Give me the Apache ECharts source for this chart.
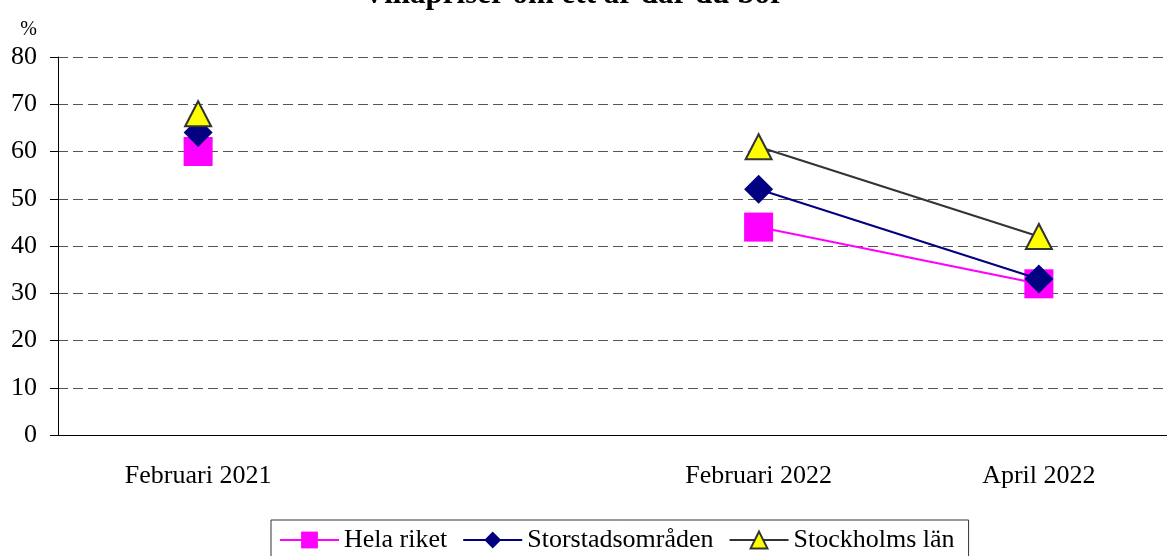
<!DOCTYPE html>
<html>
<head>
<meta charset="utf-8">
<script src="https://cdn.jsdelivr.net/npm/echarts@6/dist/echarts.min.js"></script>
<style>
  html, body { margin: 0; padding: 0; background: #fff; overflow: hidden; }
  /* plotytan går ut förbi bildens högerkant i originalet */
  #chart { width: 1180px; height: 556px; }
</style>
</head>
<body>
<div id="chart"></div>
<script>
// kategorier (den andra är tom i originalet)
var categories = ['Februari 2021', '', 'Februari 2022', 'April 2022'];
var helaRiket = [60, null, 44, 32];
var storstad = [64, null, 52, 33];
var stockholm = [68, null, 61, 42];
var yTicks = [0, 80, 10]; // min, max, steg

var serif = 'Liberation Serif, Times New Roman, serif';
var myChart = echarts.init(document.getElementById('chart'));

var option = {
  animation: false,
  title: {
    text: 'Villapriser om ett år där du bor',
    left: 358,
    top: -26,
    textStyle: { fontFamily: serif, fontSize: 31, fontWeight: 'bold', color: '#000' }
  },
  grid: { left: 58, top: 57, width: 1121, height: 378 },
  legend: {
    top: 520,
    left: 271,
    borderColor: '#333',
    borderWidth: 1,
    padding: [7, 14, 14, 8],
    itemGap: 15,
    itemWidth: 59,
    itemHeight: 21,
    textStyle: { fontFamily: serif, fontSize: 26, color: '#000' },
    data: ['Hela riket', 'Storstadsområden', 'Stockholms län']
  },
  xAxis: {
    type: 'category',
    data: categories,
    boundaryGap: true,
    axisLine: { lineStyle: { color: '#000', width: 1 } },
    axisTick: { interval: 0, length: 8, lineStyle: { color: '#000' } },
    axisLabel: { interval: 0, margin: 28, fontFamily: serif, fontSize: 26, color: '#000' }
  },
  yAxis: {
    type: 'value',
    min: yTicks[0],
    max: yTicks[1],
    interval: yTicks[2],
    name: '%',
    nameLocation: 'end',
    nameGap: 17,
    nameTextStyle: { fontFamily: serif, fontSize: 20, color: '#000', align: 'right', padding: [0, 21, 0, 0] },
    axisLine: { show: true, lineStyle: { color: '#000', width: 1 } },
    axisTick: { show: true, length: 8, lineStyle: { color: '#000' } },
    axisLabel: { margin: 21, fontFamily: serif, fontSize: 26, color: '#000' },
    splitLine: { lineStyle: { color: '#555', type: [10, 5], width: 1 } }
  },
  series: [{
    name: 'Hela riket',
    type: 'line',
    data: helaRiket,
    connectNulls: false,
    symbol: 'rect',
    symbolSize: 29,
    itemStyle: { color: '#FF00FF' },
    lineStyle: { color: '#FF00FF', width: 2 },
    z: 2
  }, {
    name: 'Storstadsområden',
    type: 'line',
    data: storstad,
    symbol: 'diamond',
    symbolSize: [29, 29],
    itemStyle: { color: '#000080' },
    lineStyle: { color: '#000080', width: 2 },
    z: 3
  }, {
    name: 'Stockholms län',
    type: 'line',
    data: stockholm,
    symbol: 'triangle',
    symbolSize: [26, 25],
    itemStyle: { color: '#FFFF00', borderColor: '#333', borderWidth: 2 },
    lineStyle: { color: '#333', width: 2 },
    z: 4
  }]
};

myChart.setOption(option);
</script>
</body>
</html>
